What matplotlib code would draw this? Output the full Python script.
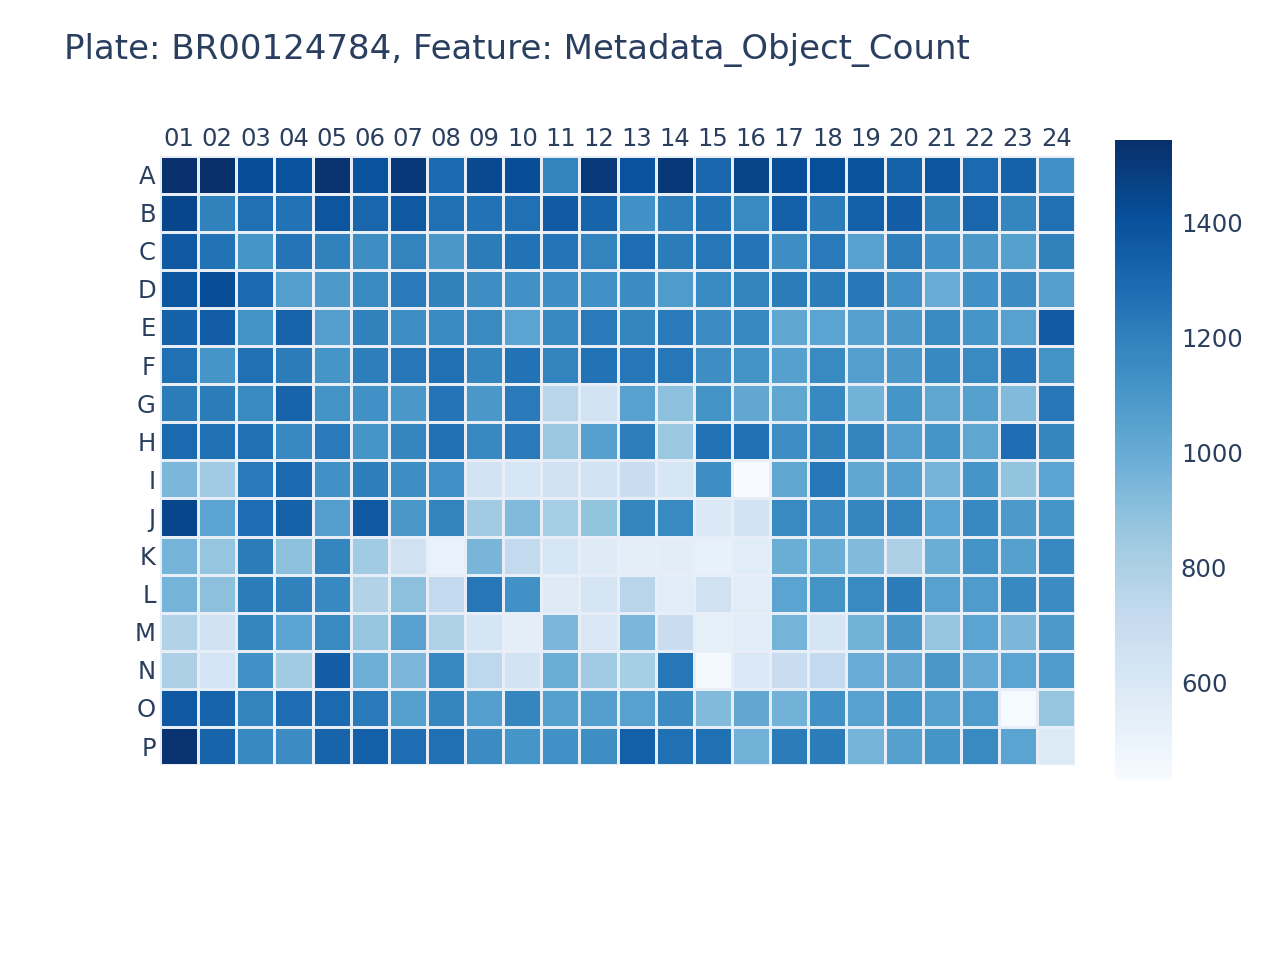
import matplotlib.pyplot as plt
import numpy as np
from matplotlib.colors import Normalize

# Datos: filas A-P, columnas 01-24
filas = list("ABCDEFGHIJKLMNOP")
columnas = [f"{i:02d}" for i in range(1, 25)]

fila_A = [1540, 1545, 1420, 1400, 1530, 1400, 1510, 1300, 1440, 1420, 1190, 1500, 1400, 1510, 1310, 1460, 1420, 1410, 1390, 1330, 1380, 1300, 1330, 1130]
fila_B = [1450, 1200, 1270, 1260, 1380, 1310, 1370, 1270, 1260, 1270, 1360, 1320, 1130, 1210, 1260, 1160, 1340, 1220, 1340, 1350, 1200, 1310, 1180, 1270]
fila_C = [1370, 1260, 1110, 1250, 1200, 1140, 1190, 1100, 1220, 1260, 1250, 1190, 1280, 1220, 1240, 1250, 1140, 1230, 1050, 1210, 1130, 1100, 1060, 1200]
fila_D = [1380, 1420, 1300, 1070, 1090, 1160, 1230, 1200, 1140, 1130, 1140, 1130, 1150, 1080, 1160, 1190, 1220, 1220, 1240, 1130, 1000, 1130, 1150, 1070]
fila_E = [1330, 1350, 1120, 1320, 1070, 1200, 1140, 1160, 1160, 1040, 1170, 1230, 1180, 1230, 1150, 1170, 1030, 1040, 1060, 1100, 1160, 1110, 1050, 1360]
fila_F = [1270, 1110, 1270, 1220, 1110, 1210, 1240, 1270, 1180, 1260, 1190, 1260, 1240, 1240, 1140, 1120, 1060, 1160, 1070, 1100, 1170, 1160, 1250, 1120]
fila_G = [1220, 1220, 1160, 1320, 1120, 1130, 1100, 1250, 1100, 1230, 760, 640, 1050, 900, 1120, 1020, 1030, 1170, 970, 1110, 1030, 1060, 930, 1240]
fila_H = [1300, 1270, 1270, 1170, 1230, 1110, 1180, 1270, 1170, 1230, 860, 1060, 1210, 860, 1260, 1270, 1140, 1200, 1190, 1070, 1110, 1030, 1280, 1180]
fila_I = [940, 840, 1230, 1300, 1130, 1210, 1140, 1130, 640, 610, 660, 640, 690, 610, 1140, 430, 1030, 1240, 1030, 1060, 960, 1110, 880, 1040]
fila_J = [1450, 1040, 1280, 1330, 1070, 1370, 1100, 1190, 840, 930, 820, 880, 1180, 1160, 590, 640, 1160, 1150, 1180, 1190, 1040, 1170, 1090, 1110]
fila_K = [960, 870, 1220, 900, 1180, 840, 650, 510, 950, 720, 610, 570, 540, 550, 520, 560, 990, 990, 930, 800, 990, 1120, 1060, 1170]
fila_L = [960, 900, 1220, 1200, 1170, 780, 900, 720, 1240, 1130, 570, 620, 760, 560, 650, 560, 1040, 1120, 1160, 1220, 1050, 1080, 1170, 1150]
fila_M = [780, 650, 1180, 1040, 1160, 870, 1050, 790, 620, 540, 940, 600, 940, 690, 530, 560, 960, 620, 970, 1100, 870, 1040, 940, 1090]
fila_N = [800, 630, 1130, 840, 1350, 980, 940, 1170, 740, 640, 990, 840, 820, 1240, 450, 590, 690, 720, 1000, 1020, 1100, 1010, 1040, 1080]
fila_O = [1370, 1320, 1190, 1280, 1300, 1230, 1060, 1180, 1070, 1180, 1060, 1070, 1050, 1150, 930, 1020, 970, 1130, 1050, 1110, 1060, 1080, 440, 870]
fila_P = [1530, 1320, 1170, 1150, 1320, 1340, 1280, 1270, 1150, 1110, 1130, 1140, 1340, 1270, 1270, 970, 1220, 1220, 960, 1060, 1110, 1160, 1040, 580]

valores = np.array([fila_A, fila_B, fila_C, fila_D, fila_E, fila_F, fila_G, fila_H,
                    fila_I, fila_J, fila_K, fila_L, fila_M, fila_N, fila_O, fila_P])

color_texto = '#2a3f5f'
plt.rcParams['font.family'] = ['DejaVu Sans']

fig = plt.figure(figsize=(12.8, 9.6), dpi=100)
ax = fig.add_axes([0.125, 0.203, 0.715, 0.635])
norma = Normalize(vmin=valores.min(), vmax=valores.max())
malla = ax.pcolormesh(valores, cmap='Blues', norm=norma, edgecolors='#e8eef7', linewidth=1.0)
ax.set_xlim(0, len(columnas))
ax.set_ylim(len(filas), 0)
ax.xaxis.tick_top()
ax.set_xticks(np.arange(len(columnas)) + 0.5)
ax.set_xticklabels(columnas)
ax.set_yticks(np.arange(len(filas)) + 0.5)
ax.set_yticklabels(filas)
ax.tick_params(length=0, labelsize=17.5, labelcolor=color_texto, pad=3)
for s in ax.spines.values():
    s.set_visible(False)

# Barra de color
cax = fig.add_axes([0.871, 0.1875, 0.045, 0.667])
cb = fig.colorbar(malla, cax=cax)
cb.set_ticks([600, 800, 1000, 1200, 1400])
cb.outline.set_visible(False)
cax.tick_params(length=0, labelsize=17.5, labelcolor=color_texto, pad=6)

fig.text(0.05, 0.948, 'Plate: BR00124784, Feature: Metadata_Object_Count',
         fontsize=24.5, color=color_texto, va='center', ha='left')

plt.savefig('out.png', dpi=100)
